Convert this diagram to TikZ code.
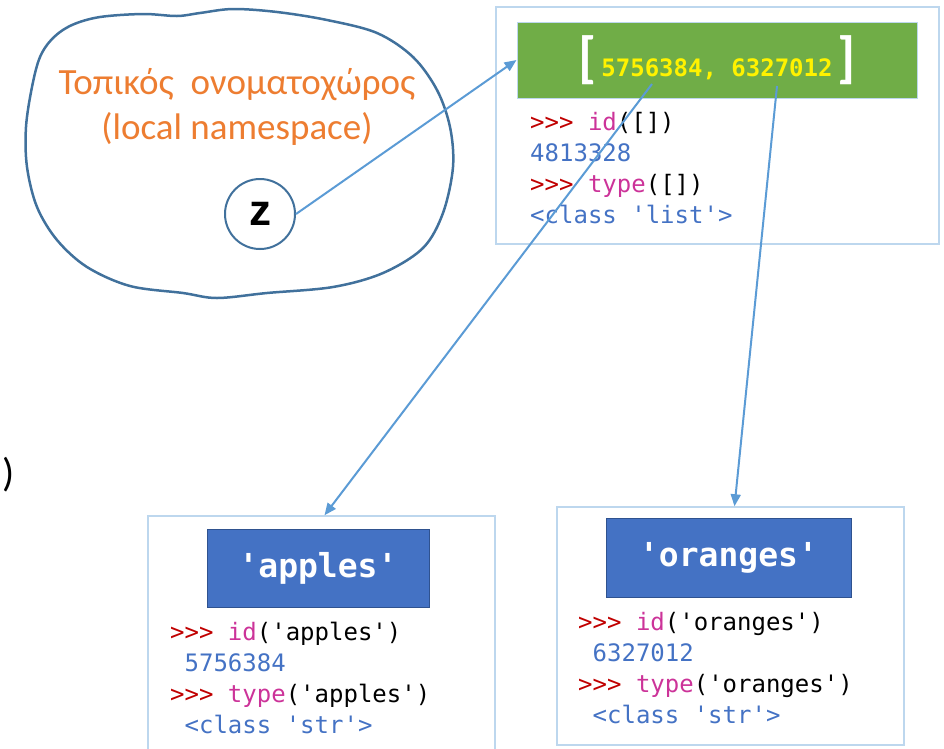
\documentclass[tikz,border=0pt]{standalone}
\usepackage{fontspec}
\setmainfont{Carlito}
\setmonofont{DejaVu Sans Mono}
\newfontfamily\zfont{Liberation Sans}
\usetikzlibrary{arrows.meta,positioning}

\definecolor{blobblue}{HTML}{41719C}
\definecolor{arrowblue}{HTML}{5B9BD5}
\definecolor{paleblue}{HTML}{BDD7EE}
\definecolor{strblue}{HTML}{4472C4}
\definecolor{strborder}{HTML}{2F528F}
\definecolor{listgreen}{HTML}{70AD47}
\definecolor{nsorange}{HTML}{ED7D31}
\definecolor{promptred}{HTML}{C00000}
\definecolor{builtin}{HTML}{CC3399}
\definecolor{outblue}{HTML}{4472C4}

\newcommand{\prompt}{\textcolor{promptred}{>>>}}
\newcommand{\bi}[1]{\textcolor{builtin}{#1}}
\newcommand{\outp}[1]{\textcolor{outblue}{#1}}

\begin{document}
\begin{tikzpicture}[x=1pt,y=-1pt]
  \clip (0,0) rectangle (944,748);

  % namespace cloud
  \draw[blobblue, line width=2.5pt] plot[smooth cycle, tension=0.55] coordinates {
    (72,25) (53,38) (40,57) (32,87) (26,127) (27,167) (37,207) (57,240)
    (87,267) (130,286) (183,293) (217,298) (267,293) (333,287) (383,273)
    (423,248) (443,213) (453,167) (450,127) (437,90) (413,57) (377,33)
    (327,20) (277,12) (233,9) (200,13) (177,16) (143,14) (100,17)};

  \node[text=nsorange, align=center, font=\fontsize{37}{45}\selectfont] (nslabel) at (237,107)
    {Τοπικός\ \ ονοματοχώρος\\(local namespace)};

  \node[circle, draw=blobblue, line width=2pt, minimum size=70pt, inner sep=0pt,
        font=\zfont\bfseries\fontsize{44}{44}\selectfont] (z) at (260,214) {z};

  \node[font=\fontsize{40}{40}\selectfont] (paren) at (9,475) {)};

  \begin{scope}[every node/.style={draw=paleblue, line width=1.5pt, inner sep=0pt}]
      \node[minimum width=443pt, minimum height=237pt] (listbox) at (717.5,125.5) {};
      \node[minimum width=347pt, minimum height=244pt] (applesbox) at (321.5,638) {};
      \node[minimum width=347pt, minimum height=238pt] (orangesbox) at (730.5,626) {};
  \end{scope}

  \node[fill=listgreen, draw=paleblue, line width=1pt, minimum width=400pt, minimum height=76pt,
        inner sep=0pt] (list) at (717,60)
    {\textcolor{white}{\bfseries\fontsize{56}{56}\selectfont[}\hspace{5pt}%
     \textcolor{yellow}{\ttfamily\bfseries\fontsize{24}{24}\selectfont 5756384, 6327012}%
     \hspace{5pt}\textcolor{white}{\bfseries\fontsize{56}{56}\selectfont]}};

  \begin{scope}[every node/.style={fill=strblue, draw=strborder, line width=1pt, inner sep=0pt,
                text=white, font=\ttfamily\bfseries\fontsize{33}{33}\selectfont}]
      \node[minimum width=222pt, minimum height=78pt] (apples) at (318,568) {'apples'};
      \node[minimum width=245pt, minimum height=79pt] (oranges) at (728.5,557.5) {'oranges'};
  \end{scope}

  \begin{scope}[every node/.style={anchor=north west, inner sep=0pt, align=left,
                font=\ttfamily\fontsize{24}{31}\selectfont}]
      \node (listcode) at (530,112)
        {\prompt{} \bi{id}([])\\\outp{4813328}\\\prompt{} \bi{type}([])\\\outp{<class 'list'>}};
      \node (applescode) at (170,622)
        {\prompt{} \bi{id}('apples')\\\outp{\hphantom{0}5756384}\\\prompt{} \bi{type}('apples')\\\outp{\hphantom{0}<class 'str'>}};
      \node (orangescode) at (578,612)
        {\prompt{} \bi{id}('oranges')\\\outp{\hphantom{0}6327012}\\\prompt{} \bi{type}('oranges')\\\outp{\hphantom{0}<class 'str'>}};
  \end{scope}

  \coordinate (ref1) at (652,84);
  \coordinate (ref2) at (777,86);

  \tikzset{ref arc/.style={-{Triangle[length=12pt,width=10pt]}, arrowblue, line width=2pt}}

  \draw[ref arc] (z.east) -- (list.west);
  \draw[ref arc] (ref1) -- ([xshift=3pt]applesbox.north);
  \draw[ref arc] (ref2) -- ([xshift=4pt]orangesbox.north);

\end{tikzpicture}
\end{document}
